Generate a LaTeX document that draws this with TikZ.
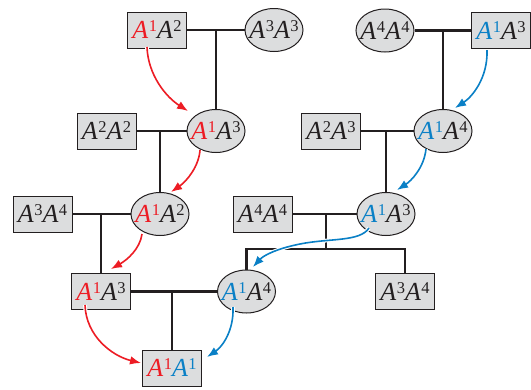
\documentclass[tikz,border=0pt]{standalone}
\usepackage{fontspec}
\setmainfont{Liberation Serif}
\usetikzlibrary{arrows.meta,shapes.geometric}
\definecolor{ink}{HTML}{231F20}
\definecolor{fillg}{HTML}{DCDDDE}
\definecolor{ared}{HTML}{ED1C24}
\definecolor{ablue}{HTML}{0A80C6}
\newcommand\Aterm[2]{{\color{#1}\itshape A\/\kern0.5pt\raisebox{7pt}{\fontsize{16.5}{16.5}\selectfont\upshape #2}}}
\newcommand\Pair[4]{\makebox[0pt]{\raisebox{-1pt}{\Aterm{#1}{#2}\Aterm{#3}{#4}}}}
\begin{document}
\begin{tikzpicture}[x=1pt,y=-1pt,font=\fontsize{26}{30}\selectfont,
  boxn/.style={draw=ink,fill=fillg,line width=1pt,rectangle,minimum width=59pt,minimum height=36pt,inner sep=0pt,text=ink},
  elln/.style={draw=ink,fill=fillg,line width=1pt,ellipse,minimum width=58pt,minimum height=43pt,inner sep=0pt,text=ink},
  conn/.style={draw=ink,line width=2.8pt},
  arr/.style={line width=1.6pt,-{Latex[length=11pt,width=8.5pt]},preaction={draw=white,line width=3.8pt,-,shorten >=9pt}},
  redarr/.style={arr,draw=ared},
  bluearr/.style={arr,draw=ablue}]
\useasboundingbox (0,0) rectangle (531,389);
% nodes
\node[boxn] (r1) at (157,30) {\Pair{ared}{1}{ink}{2}};
\node[elln] (e1) at (274,30) {\Pair{ink}{3}{ink}{3}};
\node[elln] (e2) at (216,131) {\Pair{ared}{1}{ink}{3}};
\node[boxn] (b22) at (106.5,131) {\Pair{ink}{2}{ink}{2}};
\node[elln] (e3) at (160,214) {\Pair{ared}{1}{ink}{2}};
\node[boxn] (b34) at (42.5,214) {\Pair{ink}{3}{ink}{4}};
\node[boxn] (r4) at (101,291.5) {\Pair{ared}{1}{ink}{3}};
\node[elln] (e6) at (246.5,291.5) {\Pair{ablue}{1}{ink}{4}};
\node[boxn] (bot) at (172,368) {\Pair{ared}{1}{ablue}{1}};
\node[elln] (e44) at (385,30.5) {\Pair{ink}{4}{ink}{4}};
\node[boxn] (rb) at (501,30.5) {\Pair{ablue}{1}{ink}{3}};
\node[elln] (e14) at (443,131) {\Pair{ablue}{1}{ink}{4}};
\node[boxn] (b23) at (331,131) {\Pair{ink}{2}{ink}{3}};
\node[elln] (e13) at (386,214) {\Pair{ablue}{1}{ink}{3}};
\node[boxn] (b44) at (262.5,214) {\Pair{ink}{4}{ink}{4}};
\node[boxn] (b34r) at (405,291.5) {\Pair{ink}{3}{ink}{4}};
% tree connectors
\draw[conn] (r1.east) -- (e1.west);
\draw[conn] (e2.north |- r1.east) -- (e2.north);
\draw[conn] (b22.east) -- (e2.west);
\draw[conn] (e3.north |- b22.east) -- (e3.north);
\draw[conn] (b34.east) -- (e3.west);
\draw[conn] (r4.north |- b34.east) -- (r4.north);
\draw[conn] (r4.east) -- (e6.west);
\draw[conn] (bot.north |- r4.east) -- (bot.north);
\draw[conn] (e44.east) -- (rb.west);
\draw[conn] (e14.north |- e44.east) -- (e14.north);
\draw[conn] (b23.east) -- (e14.west);
\draw[conn] (e13.north |- b23.east) -- (e13.north);
\draw[conn] (b44.east) -- (e13.west);
\coordinate (fork) at (326,249);
\draw[conn] (fork |- b44.east) -- (fork);
\draw[conn] (e6.north) |- (fork) -| (b34r.north);
% arrow end points
\coordinate (r1s) at (147,47);  \coordinate (e2t) at (188,111);
\coordinate (e2s) at (200,150); \coordinate (e3t) at (171,192);
\coordinate (e3s) at (142,234); \coordinate (r4t) at (111,269);
\coordinate (r4s) at (85,305);  \coordinate (botl) at (141,363);
\coordinate (rbs) at (487,50);  \coordinate (e14t) at (455,108);
\coordinate (e14s) at (426,149); \coordinate (e13t) at (397,190);
\coordinate (e13s) at (369,228); \coordinate (e6t) at (253,267);
\coordinate (e6s) at (233,307); \coordinate (botr) at (207,357);
% red arrows
\draw[redarr] (r1s) .. controls (148,75) and (166,97) .. (e2t);
\draw[redarr] (e2s) .. controls (199,166) and (187,181) .. (e3t);
\draw[redarr] (e3s) .. controls (140,249) and (127,260) .. (r4t);
\draw[redarr] (r4s) .. controls (86,336) and (112,356) .. (botl);
% blue arrows
\draw[bluearr] (rbs) .. controls (488,78) and (472,97) .. (e14t);
\draw[bluearr] (e14s) .. controls (424,168) and (411,181) .. (e13t);
\draw[bluearr] (e13s) .. controls (360,242) and (330,238) .. (300,244) .. controls (275,249) and (263,256) .. (e6t);
\draw[bluearr] (e6s) .. controls (234,331) and (222,347) .. (botr);
\end{tikzpicture}
\end{document}
